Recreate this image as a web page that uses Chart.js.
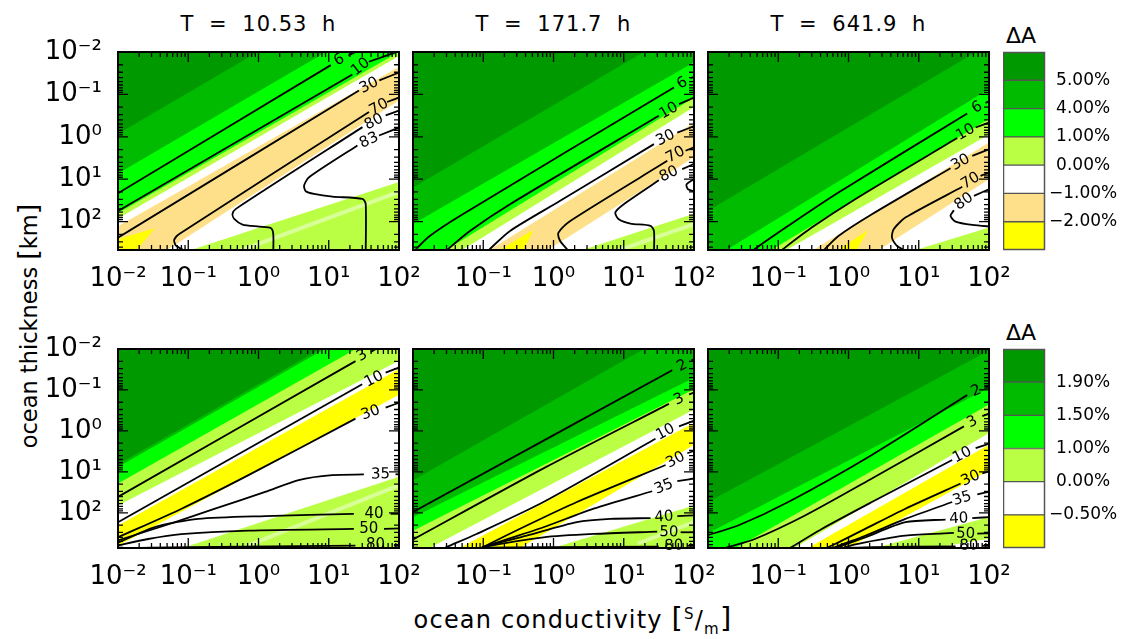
<!DOCTYPE html>
<html>
<head>
<meta charset="utf-8">
<script src="https://cdn.jsdelivr.net/npm/chart.js@4.4.1/dist/chart.umd.min.js"></script>
<style>
html,body{margin:0;padding:0;background:#fff;}
body{width:1122px;height:639px;position:relative;overflow:hidden;font-family:"DejaVu Sans",sans-serif;color:#000;}
canvas{position:absolute;}
.txt{position:absolute;white-space:nowrap;line-height:1;}
.title{font-size:21px;letter-spacing:1px;word-spacing:7px;transform:translateX(-50%);}
.da{font-size:22px;transform:translateX(-50%);}
.br{font-size:29px;}
#ytitle{left:27px;top:326px;font-size:22.5px;letter-spacing:0px;transform:translate(-50%,-50%) rotate(-90deg);}
#ytitle .br{font-size:27px;}
#xtitle{left:573px;top:604px;font-size:24px;letter-spacing:1.2px;transform:translateX(-50%);}
#xtitle sup,#xtitle sub{font-size:15px;line-height:0;}
</style>
</head>
<body>
<div class="txt" id="ytitle">ocean thickness <span class="br">[</span>km<span class="br">]</span></div>
<div class="txt" id="xtitle">ocean conductivity <span class="br">[</span><sup>S</sup>/<sub>m</sub><span class="br">]</span></div>
<script>
// ================= DATA (log10 units: X = log10 sigma [S/m], Y = log10 h [km]) =================
const periods = ['T = 10.53 h', 'T = 171.7 h', 'T = 641.9 h'];
const xExpFirst = [-2, -1, 0, 1, 2];
const xExpOther = [-1, 0, 1, 2];
const yExp = [-2, -1, 0, 1, 2];
const topRange = [-2, 2.67];
const bottomRange = [-2, 2.86];
const topLevels = ['5.00%', '4.00%', '1.00%', '0.00%', '\u22121.00%', '\u22122.00%'];
const bottomLevels = ['1.90%', '1.50%', '1.00%', '0.00%', '\u22120.50%'];

// band boundaries: [level index, boundary points]; region above boundary gets that level
const t1Base = 3;
const t1Bands = [
  [4, [[-2.2, 3.34], [2.2, 0.96]]],
  [5, [[-2.2, 3.63], [2.2, -1.07]]],
  [6, [[-2.1, 2.46], [-2.1, 2.8], [-1.80, 2.8], [-1.48, 2.16]], 'shape'],
  [4, [[-2.2, 2.30], [2.2, -1.84]]],
  [3, [[-2.2, 2.12], [2.2, -2.10]]],
  [2, [[-2.2, 1.99], [2.2, -2.19]]],
  [1, [[-2.2, 1.06], [2.2, -3.20]]],
  [0, [[-2.2, 0.12], [2.2, -4.14]]]
];
const t1Streak = [[-0.25, 2.68], [2.0, 1.30]];
const t1Contours = [
  ['6', [1.15, -1.81], [[1.03, -1.69], [-2.05, 1.38]], [[1.28, -1.92], [1.5, -2.1]]],
  ['10', [1.455, -1.646], [[1.336, -1.47], [-2.05, 1.80]], [[1.57, -1.77], [2.05, -2.05]]],
  ['30', [1.573, -1.21], [[1.43, -1.094], [-2.05, 2.43]], [[1.72, -1.33], [2.05, -1.55]]],
  ['70', [1.716, -0.70], [[1.573, -0.583], [-1.128, 2.29], [-1.2, 2.43], [-1.175, 2.567], [-1.057, 2.685], [-1.03, 2.75]], [[1.83, -0.82], [2.05, -0.96]]],
  ['80', [1.645, -0.35], [[1.48, -0.228], [-0.322, 1.70], [-0.37, 1.82], [-0.346, 1.937], [-0.227, 2.07], [0.01, 2.118], [0.175, 2.15], [0.21, 2.29], [0.21, 2.75]], [[1.81, -0.504], [2.05, -0.65]]],
  ['83', [1.573, 0.087], [[1.408, 0.205], [0.72, 0.953], [0.649, 1.15], [0.673, 1.283], [0.79, 1.346], [1.052, 1.41], [1.48, 1.465], [1.526, 1.583], [1.526, 2.75]], [[1.716, -0.03], [2.05, -0.25]]]
];

const t2Base = 3;
const t2Bands = [
  [4, [[-2.2, 4.07], [2.2, 1.71]]],
  [5, [[-2.2, 4.90], [2.2, 0.27]]],
  [6, [[-0.90, 2.8], [-0.46, 2.8], [-0.29, 2.2]], 'shape'],
  [4, [[-2.2, 4.00], [2.2, -0.54]]],
  [3, [[-2.2, 3.59], [2.2, -0.91]]],
  [2, [[-2.2, 3.35], [2.2, -1.13]]],
  [1, [[-2.2, 2.25], [2.2, -1.95]]],
  [0, [[-2.2, 1.39], [2.2, -2.89]]]
];
const t2Streak = [[0.9, 2.69], [2.0, 2.06]];
const t2Contours = [
  ['6', [1.833, -1.26], [[1.714, -1.165], [-1.333, 1.866], [-1.762, 2.339], [-1.952, 2.646], [-1.99, 2.75]], [[1.95, -1.38], [2.05, -1.45]]],
  ['10', [1.643, -0.614], [[1.5, -0.496], [-0.619, 1.59], [-1.19, 2.22], [-1.5, 2.646], [-1.56, 2.75]], [[1.786, -0.77], [2.05, -0.96]]],
  ['30', [1.595, 0.03], [[1.43, 0.173], [0.095, 1.51], [-0.619, 2.22], [-0.905, 2.646], [-0.96, 2.75]], [[1.762, -0.10], [2.05, -0.28]]],
  ['70', [1.738, 0.425], [[1.62, 0.567], [0.238, 1.984], [0.071, 2.26], [0.095, 2.457], [0.19, 2.646], [0.22, 2.75]], [[1.88, 0.33], [2.05, 0.21]]],
  ['80', [1.643, 0.882], [[1.5, 1.024], [1.0, 1.59], [0.88, 1.787], [0.929, 1.945], [1.095, 2.047], [1.38, 2.1], [1.43, 2.22], [1.43, 2.75]], [[1.833, 0.764], [2.05, 0.6]]],
  [null, null, [[2.05, 0.95], [1.895, 1.118], [1.914, 1.236], [2.05, 1.31]], []]
];

const t3Base = 3;
const t3Bands = [
  [4, [[-2.2, 4.27], [2.2, 2.04]]],
  [5, [[-2.2, 5.46], [2.2, 0.79]]],
  [6, [[-0.27, 2.8], [0.07, 2.8], [0.28, 2.2]], 'shape'],
  [4, [[-2.2, 4.39], [2.2, -0.07]]],
  [3, [[-2.2, 3.91], [2.2, -0.24]]],
  [2, [[-2.2, 3.77], [2.2, -0.62]]],
  [1, [[-2.2, 3.14], [2.2, -1.33]]],
  [0, [[-2.2, 1.94], [2.2, -2.38]]]
];
const t3Contours = [
  ['6', [1.833, -0.693], [[1.69, -0.551], [-0.143, 1.315], [-0.857, 2.1], [-1.333, 2.646], [-1.4, 2.75]], [[1.95, -0.8], [2.05, -0.87]]],
  ['10', [1.667, -0.102], [[1.548, 0.03], [0.095, 1.472], [-0.524, 2.142], [-0.929, 2.646], [-1.0, 2.75]], [[1.81, -0.22], [2.05, -0.37]]],
  ['30', [1.595, 0.606], [[1.452, 0.74], [0.333, 1.827], [-0.143, 2.339], [-0.333, 2.646], [-0.38, 2.75]], [[1.762, 0.449], [2.05, 0.26]]],
  ['70', [1.738, 1.04], [[1.62, 1.18], [0.81, 1.906], [0.643, 2.18], [0.619, 2.378], [0.69, 2.575], [0.762, 2.646], [0.8, 2.75]], [[1.88, 0.92], [2.05, 0.81]]],
  ['80', [1.643, 1.528], [[1.5, 1.732], [1.452, 1.866], [1.524, 2.0], [1.762, 2.079], [2.05, 2.12]], [[1.786, 1.394], [2.05, 1.2]]]
];

const b1Base = 3;
const b1Bands = [
  [4, [[-2.2, 3.49], [2.2, 1.01]]],
  [5, [[-2.2, 2.99], [2.2, -1.07]]],
  [4, [[-2.2, 2.50], [2.2, -1.70]]],
  [3, [[-2.2, 2.00], [2.2, -1.89]]],
  [2, [[-2.2, 1.48], [2.2, -2.79]]],
  [1, [[-2.2, 1.08], [2.2, -3.23]]],
  [0, [[-2.2, 1.01], [2.2, -3.29]]]
];
const b1Streak = [[-0.15, 2.8], [2.0, 1.33]];
const b1Contours = [
  ['3', [1.476, -1.836], [[1.381, -1.704], [-2.05, 1.66]], [[1.6, -1.93], [1.75, -2.08]]],
  ['10', [1.643, -1.26], [[1.476, -1.138], [-2.05, 2.28]], [[1.81, -1.425], [2.05, -1.58]]],
  ['30', [1.595, -0.44], [[1.381, -0.30], [-0.143, 1.08], [-1.095, 1.9], [-2.0, 2.6], [-2.05, 2.64]], [[1.81, -0.57], [2.05, -0.72]]],
  ['35', [1.738, 1.064], [[1.5, 1.064], [1.048, 1.08], [0.571, 1.2], [0.095, 1.49], [-0.619, 1.9], [-1.333, 2.31], [-2.05, 2.7]], [[1.95, 1.06], [2.05, 1.06]]],
  ['40', [1.643, 2.025], [[1.357, 2.025], [0.095, 2.08], [-0.857, 2.15], [-1.476, 2.35], [-2.05, 2.77]], [[1.88, 2.025], [2.05, 2.025]]],
  ['50', [1.571, 2.41], [[1.357, 2.394], [-0.143, 2.435], [-1.1, 2.52], [-1.571, 2.64], [-2.05, 2.82]], [[1.786, 2.394], [2.05, 2.38]]],
  ['80', [1.667, 2.79], [[1.38, 2.80], [-1.0, 2.84], [-2.05, 2.87]], [[1.93, 2.80], [2.05, 2.80]]]
];

const b2Base = 3;
const b2Bands = [
  [4, [[-2.2, 3.99], [2.2, 1.72]]],
  [5, [[-2.2, 4.61], [2.2, 0.14]]],
  [4, [[-2.2, 3.65], [2.2, -0.38]]],
  [3, [[-2.2, 3.25], [2.2, -0.70]]],
  [2, [[-2.2, 2.61], [2.2, -1.19]]],
  [1, [[-2.2, 2.28], [2.2, -1.47]]],
  [0, [[-2.2, 1.40], [2.2, -2.89]]]
];
const b2Streak = [[1.2, 2.75], [2.0, 2.23]];
const b2Contours = [
  ['2', [1.833, -1.59], [[1.69, -1.483], [-2.05, 2.03]], [[1.96, -1.72], [2.05, -1.79]]],
  ['3', [1.786, -0.768], [[1.643, -0.66], [-0.143, 0.916], [-2.05, 2.70]], [[1.93, -0.89], [2.05, -0.97]]],
  ['10', [1.595, 0.03], [[1.452, 0.193], [-0.143, 1.737], [-1.095, 2.517], [-1.524, 2.838], [-1.6, 2.9]], [[1.786, -0.11], [2.05, -0.28]]],
  ['30', [1.738, 0.71], [[1.595, 0.834], [0.333, 1.737], [-0.381, 2.312], [-1.0, 2.838], [-1.05, 2.9]], [[1.905, 0.546], [2.05, 0.46]]],
  ['35', [1.571, 1.367], [[1.405, 1.474], [0.571, 1.9], [-0.143, 2.353], [-1.0, 2.838], [-1.05, 2.9]], [[1.762, 1.228], [2.05, 1.15]]],
  ['40', [1.571, 2.107], [[1.381, 2.13], [0.81, 2.15], [0.333, 2.23], [-0.381, 2.56], [-1.0, 2.838], [-1.05, 2.9]], [[1.762, 2.08], [2.05, 2.06]]],
  ['50', [1.643, 2.476], [[1.476, 2.46], [0.571, 2.517], [-0.143, 2.6], [-1.0, 2.838], [-1.05, 2.9]], [[1.81, 2.476], [2.05, 2.476]]],
  ['80', [1.714, 2.805], [[1.5, 2.83], [-0.143, 2.838], [-1.0, 2.85]], [[1.905, 2.805], [2.05, 2.805]]]
];

const b3Base = 4;
const b3Bands = [
  [3, [[-2.2, 3.82], [2.2, 2.58]]],
  [4, [[-2.2, 4.07], [2.2, 2.01]]],
  [5, [[-2.2, 4.94], [2.2, 0.77]]],
  [4, [[-2.2, 4.45], [2.2, 0.14]]],
  [3, [[-2.2, 4.31], [2.2, -0.15]]],
  [2, [[-2.2, 3.44], [2.2, -0.84]]],
  [1, [[-2.2, 2.68], [2.2, -1.23]]],
  [0, [[-2.2, 1.92], [2.2, -2.15]]]
];
const b3Contours = [
  ['2', [1.819, -0.973], [[1.69, -0.875], [0.333, 0.587], [-0.857, 1.737], [-1.571, 2.31], [-2.05, 2.57]], [[1.95, -1.07], [2.05, -1.13]]],
  ['3', [1.762, -0.218], [[1.643, -0.111], [0.333, 1.162], [-0.619, 2.066], [-1.333, 2.64], [-1.714, 2.838], [-1.8, 2.9]], [[1.905, -0.36], [2.05, -0.46]]],
  ['10', [1.619, 0.587], [[1.476, 0.71], [0.333, 1.737], [-0.381, 2.394], [-0.81, 2.838], [-0.86, 2.9]], [[1.81, 0.423], [2.05, 0.28]]],
  ['30', [1.738, 1.162], [[1.595, 1.285], [0.81, 1.9], [0.238, 2.394], [-0.143, 2.723], [-0.286, 2.838], [-0.33, 2.9]], [[1.905, 1.04], [2.05, 0.96]]],
  ['35', [1.619, 1.655], [[1.476, 1.737], [0.81, 2.15], [0.238, 2.56], [-0.19, 2.838], [-0.24, 2.9]], [[1.833, 1.55], [2.05, 1.47]]],
  ['40', [1.571, 2.15], [[1.381, 2.165], [0.81, 2.23], [0.238, 2.6], [-0.143, 2.838], [-0.2, 2.9]], [[1.762, 2.13], [2.05, 2.1]]],
  ['50', [1.667, 2.517], [[1.5, 2.493], [0.81, 2.56], [0.238, 2.723], [-0.048, 2.838], [-0.1, 2.9]], [[1.833, 2.51], [2.05, 2.5]]],
  ['80', [1.714, 2.805], [[1.524, 2.82], [0.333, 2.838], [-0.1, 2.86]], [[1.905, 2.805], [2.05, 2.805]]]
];

// ================= STYLE / LAYOUT =================
const topColors = ['#009900', '#00bb00', '#00ff00', '#bbff44', '#ffffff', '#ffe08a', '#ffff00'];
const bottomColors = ['#009900', '#00bb00', '#00ff00', '#bbff44', '#ffffff', '#ffff00'];
const colLeft = [118, 413, 708];
const plotW = 281;
const rowTop = [52, 349];
const rowH = [198, 199];
const FONT = '"DejaVu Sans", sans-serif';
Chart.defaults.font.family = FONT;
Chart.defaults.color = '#000';

const SUP = {'-': '\u207B', '0': '\u2070', '1': '\u00B9', '2': '\u00B2', '3': '\u00B3'};
function pow10(v) { return '10' + String(v).split('').map(c => SUP[c]).join(''); }

function decorPlugin(base, contours) {
  return {
    id: 'decor',
    beforeDatasetsDraw(chart) {
      const {ctx, chartArea: a} = chart;
      ctx.save(); ctx.fillStyle = base; ctx.fillRect(a.left, a.top, a.width, a.height); ctx.restore();
    },
    afterDatasetsDraw(chart) {
      const {ctx, chartArea: a, scales: {x, y}} = chart;
      ctx.save();
      // contour labels
      ctx.font = '15px ' + FONT; ctx.fillStyle = '#000';
      ctx.textAlign = 'center'; ctx.textBaseline = 'middle';
      contours.forEach(c => {
        if (!c[0]) return;
        const px = x.getPixelForValue(c[1][0]), py = y.getPixelForValue(c[1][1]);
        const p0 = c[2][0], p1 = (c[3] && c[3].length) ? c[3][0] : null;
        let ang;
        if (p1) ang = Math.atan2(y.getPixelForValue(p1[1]) - y.getPixelForValue(p0[1]), x.getPixelForValue(p1[0]) - x.getPixelForValue(p0[0]));
        else { const q = c[2][1]; ang = Math.atan2(y.getPixelForValue(p0[1]) - y.getPixelForValue(q[1]), x.getPixelForValue(p0[0]) - x.getPixelForValue(q[0])); }
        ctx.save(); ctx.translate(px, py); ctx.rotate(ang); ctx.fillText(c[0], 0, 0); ctx.restore();
      });
      // inward ticks on all four sides
      ctx.strokeStyle = '#000'; ctx.lineWidth = 1.3;
      ctx.beginPath();
      for (let d = -2; d <= 3; d++) {
        for (let k = 1; k <= 9; k++) {
          const v = d + Math.log10(k);
          const len = k === 1 ? 10 : 5;
          if (v >= x.min - 1e-9 && v <= x.max + 1e-9) {
            const px = x.getPixelForValue(v);
            ctx.moveTo(px, a.bottom); ctx.lineTo(px, a.bottom - len);
            ctx.moveTo(px, a.top); ctx.lineTo(px, a.top + len);
          }
          if (v >= y.min - 1e-9 && v <= y.max + 1e-9) {
            const py = y.getPixelForValue(v);
            ctx.moveTo(a.left, py); ctx.lineTo(a.left + len, py);
            ctx.moveTo(a.right, py); ctx.lineTo(a.right - len, py);
          }
        }
      }
      ctx.stroke();
      ctx.lineWidth = 2;
      ctx.strokeRect(a.left, a.top, a.width, a.height);
      ctx.restore();
    }
  };
}

function pts(arr) { return arr.map(q => ({x: q[0], y: q[1]})); }

function buildPanel(row, col, base, bands, streak, contours) {
  const H = rowH[row];
  const range = row === 0 ? topRange : bottomRange;
  const pal = row === 0 ? topColors : bottomColors;
  const cv = document.createElement('canvas');
  const W = 100 + plotW + 40, HH = 30 + H + 50;
  cv.width = W; cv.height = HH;
  cv.style.left = (colLeft[col] - 100) + 'px';
  cv.style.top = (rowTop[row] - 30) + 'px';
  cv.style.width = W + 'px'; cv.style.height = HH + 'px';
  document.body.appendChild(cv);

  const paint = [];
  bands.forEach(b => paint.push({
    data: pts(b[1]), fill: b[2] === 'shape' ? 'shape' : {value: -3},
    backgroundColor: pal[b[0]], borderColor: 'rgba(0,0,0,0)', borderWidth: 0, tension: 0
  }));
  if (streak) paint.push({data: pts(streak), fill: false, borderColor: 'rgba(255,255,255,0.45)', borderWidth: 4, tension: 0});
  contours.forEach(c => {
    [c[2], c[3]].forEach(seg => {
      if (seg && seg.length) paint.push({data: pts(seg), fill: false, borderColor: '#000', borderWidth: 1.8, tension: 0.25});
    });
  });
  paint.forEach((d, i) => { d.order = paint.length - i; d.pointRadius = 0; d.pointHoverRadius = 0; });

  const xTicks = col === 0 ? xExpFirst : xExpOther;
  new Chart(cv, {
    type: 'line',
    data: {datasets: paint},
    options: {
      animation: false, responsive: false, devicePixelRatio: 1, events: [],
      layout: {padding: {top: 30, right: 40, left: 0, bottom: 0}},
      elements: {line: {capBezierPoints: false}},
      plugins: {legend: {display: false}, tooltip: {enabled: false}},
      scales: {
        x: {
          type: 'linear', min: -2, max: 2,
          grid: {display: false}, border: {display: false},
          afterBuildTicks: s => { s.ticks = xTicks.map(v => ({value: v})); },
          afterFit: s => { s.height = 50; },
          ticks: {callback: v => pow10(v), font: {size: 26}, color: '#000', maxRotation: 0, minRotation: 0, autoSkip: false, padding: 6}
        },
        y: {
          type: 'linear', reverse: true, min: range[0], max: range[1],
          grid: {display: false}, border: {display: false},
          afterBuildTicks: s => { s.ticks = yExp.map(v => ({value: v})); },
          afterFit: s => { s.width = 100; },
          ticks: {display: col === 0, callback: v => pow10(v), font: {size: 26}, color: '#000', autoSkip: false, padding: 8}
        }
      }
    },
    plugins: [decorPlugin(pal[base], contours)]
  });
}

function buildColorbar(row, colors, levels) {
  const H = rowH[row], n = colors.length;
  const cv = document.createElement('canvas');
  const W = 42 + 80, HH = H + 40;
  cv.width = W; cv.height = HH;
  cv.style.left = '1003px'; cv.style.top = (rowTop[row] - 20) + 'px';
  cv.style.width = W + 'px'; cv.style.height = HH + 'px';
  document.body.appendChild(cv);
  const ds = colors.slice().reverse().map(c => ({
    data: [1], backgroundColor: c, borderColor: '#555', borderWidth: 1, borderSkipped: false,
    barPercentage: 1, categoryPercentage: 1
  }));
  new Chart(cv, {
    type: 'bar',
    data: {labels: [''], datasets: ds},
    options: {
      animation: false, responsive: false, devicePixelRatio: 1, events: [],
      layout: {padding: {top: 20, bottom: 20, left: 0, right: 0}},
      plugins: {legend: {display: false}, tooltip: {enabled: false}},
      scales: {
        x: {stacked: true, display: false},
        y: {
          stacked: true, position: 'right', min: 0, max: n,
          grid: {display: false}, border: {display: false},
          afterBuildTicks: s => { s.ticks = levels.map((_, i) => ({value: n - 1 - i})); },
          afterFit: s => { s.width = 80; },
          ticks: {callback: v => levels[n - 1 - v], font: {size: 17}, color: '#000', crossAlign: 'center', padding: -4, autoSkip: false}
        }
      }
    },
    plugins: [{
      id: 'cbframe',
      afterDatasetsDraw(chart) {
        const {ctx, chartArea: a} = chart;
        ctx.save(); ctx.strokeStyle = '#555'; ctx.lineWidth = 1.5;
        ctx.strokeRect(a.left + 0.5, a.top + 0.5, a.width - 1, a.height - 1); ctx.restore();
      }
    }]
  });
}

// titles
periods.forEach((p, i) => {
  const d = document.createElement('div');
  d.className = 'txt title'; d.textContent = p;
  d.style.left = (colLeft[i] + plotW / 2) + 'px'; d.style.top = '14px';
  document.body.appendChild(d);
});
[25, 322].forEach(t => {
  const d = document.createElement('div');
  d.className = 'txt da'; d.textContent = '\u0394A';
  d.style.left = '1021px'; d.style.top = t + 'px';
  document.body.appendChild(d);
});

buildPanel(0, 0, t1Base, t1Bands, t1Streak, t1Contours);
buildPanel(0, 1, t2Base, t2Bands, t2Streak, t2Contours);
buildPanel(0, 2, t3Base, t3Bands, null, t3Contours);
buildPanel(1, 0, b1Base, b1Bands, b1Streak, b1Contours);
buildPanel(1, 1, b2Base, b2Bands, b2Streak, b2Contours);
buildPanel(1, 2, b3Base, b3Bands, null, b3Contours);
buildColorbar(0, topColors, topLevels);
buildColorbar(1, bottomColors, bottomLevels);
</script>
</body>
</html>
